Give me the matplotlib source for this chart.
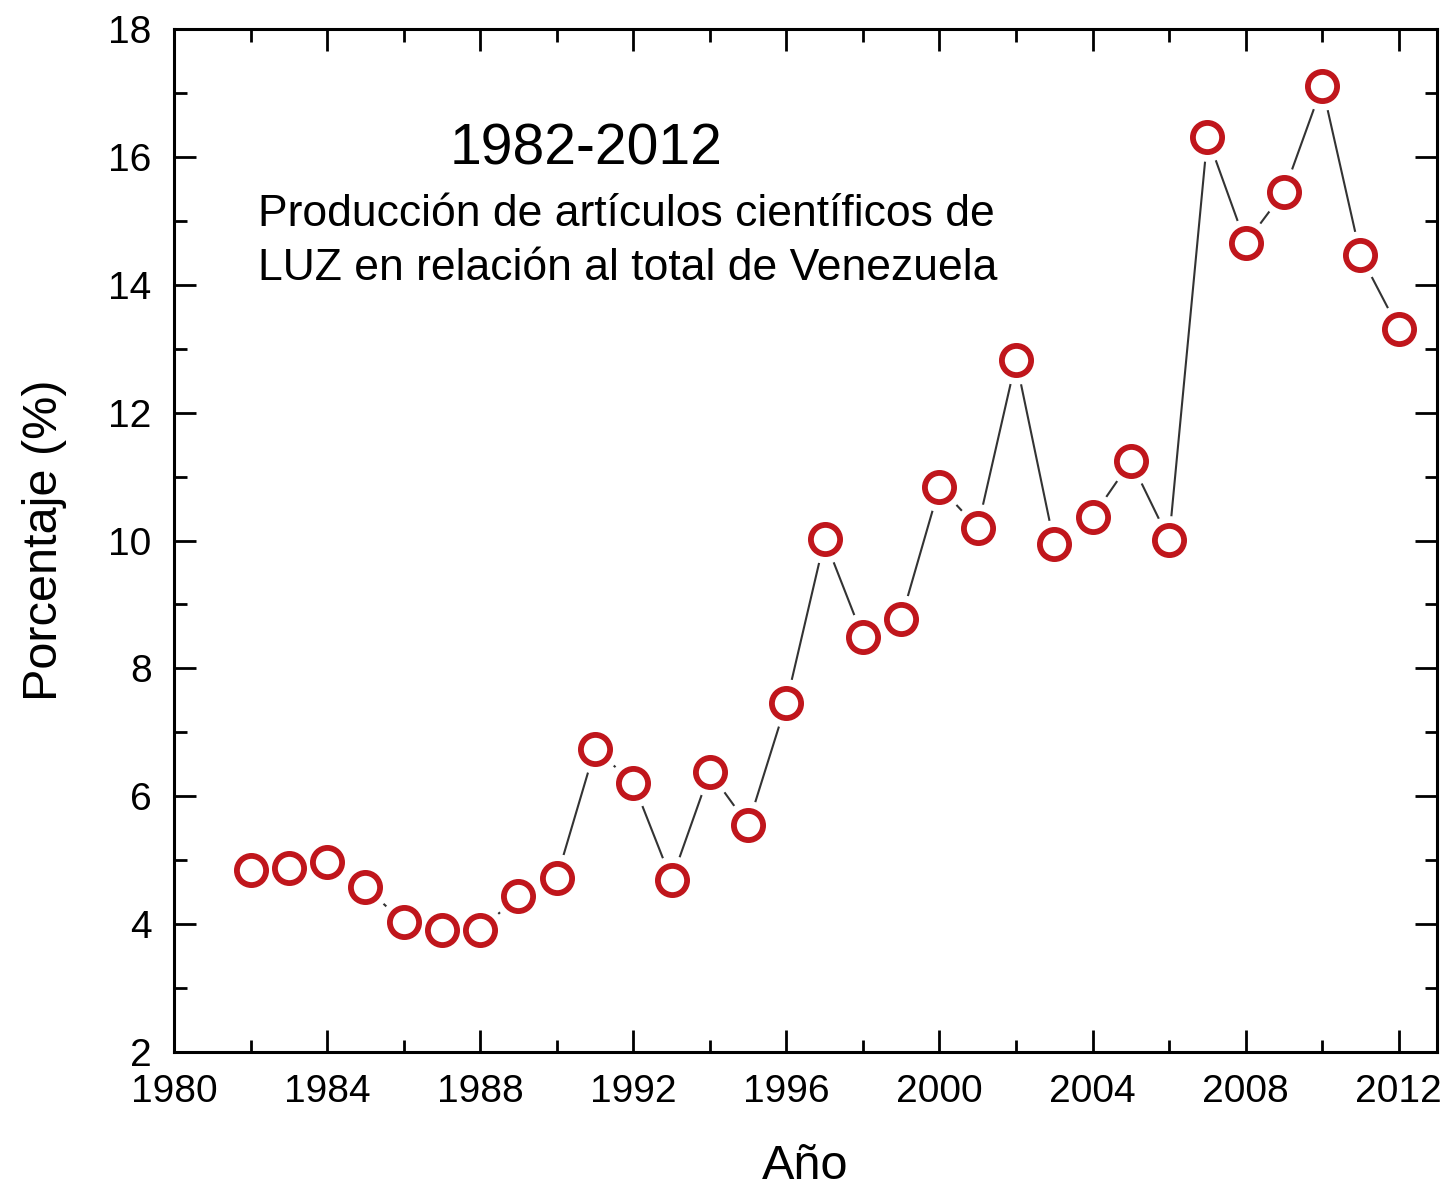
import numpy as np
import matplotlib
matplotlib.use('Agg')
import matplotlib.pyplot as plt
from matplotlib.ticker import MultipleLocator

plt.rcParams['font.family'] = ['Liberation Sans', 'DejaVu Sans']

# datos
anios = [1982, 1983, 1984, 1985, 1986, 1987, 1988, 1989, 1990, 1991,
         1992, 1993, 1994, 1995, 1996, 1997, 1998, 1999, 2000, 2001,
         2002, 2003, 2004, 2005, 2006, 2007, 2008, 2009, 2010, 2011, 2012]
porcentaje = [4.85, 4.88, 4.97, 4.58, 4.03, 3.91, 3.91, 4.44, 4.72, 6.74,
              6.21, 4.69, 6.38, 5.55, 7.46, 10.02, 8.49, 8.77, 10.84, 10.20,
              12.82, 9.95, 10.37, 11.24, 10.01, 16.31, 14.65, 15.45, 17.11, 14.46, 13.31]

xticks = [1980, 1984, 1988, 1992, 1996, 2000, 2004, 2008, 2012]
yticks = [2, 4, 6, 8, 10, 12, 14, 16, 18]

fig = plt.figure(figsize=(14.52, 11.92), dpi=100)
ax = fig.add_axes([0.1198, 0.1174, 0.8699, 0.8583])

ax.plot(anios, porcentaje, color='#333333', lw=1.5, zorder=1)
# circulo blanco mas grande para cortar la linea cerca de los marcadores
ax.plot(anios, porcentaje, ls='none', marker='o', ms=34, mfc='white', mec='white', zorder=2)
ax.plot(anios, porcentaje, ls='none', marker='o', ms=21, mfc='white', mec='#c0161c',
        mew=4.2, zorder=3)

ax.set_xlim(1980, 2013)
ax.set_ylim(2, 18)
ax.set_xticks(xticks)
ax.set_yticks(yticks)
ax.xaxis.set_minor_locator(MultipleLocator(2))
ax.yaxis.set_minor_locator(MultipleLocator(1))
ax.tick_params(which='both', direction='in', top=True, right=True, width=2, labelsize=28)
ax.tick_params(axis='x', pad=16)
ax.tick_params(axis='y', pad=16)
ax.tick_params(which='major', length=16)
ax.tick_params(which='minor', length=9)
for s in ax.spines.values():
    s.set_linewidth(2.2)

ax.set_xlabel('Año', fontsize=35, labelpad=24)
ax.set_ylabel('Porcentaje (%)', fontsize=35, labelpad=30)

ax.text(1987.2, 16.12, '1982-2012', fontsize=41, ha='left', va='center')
ax.text(1982.2, 14.68, 'Producción de artículos científicos de\nLUZ en relación al total de Venezuela',
        fontsize=32, ha='left', va='center', linespacing=1.4)

fig.savefig('out.png', dpi=100)
